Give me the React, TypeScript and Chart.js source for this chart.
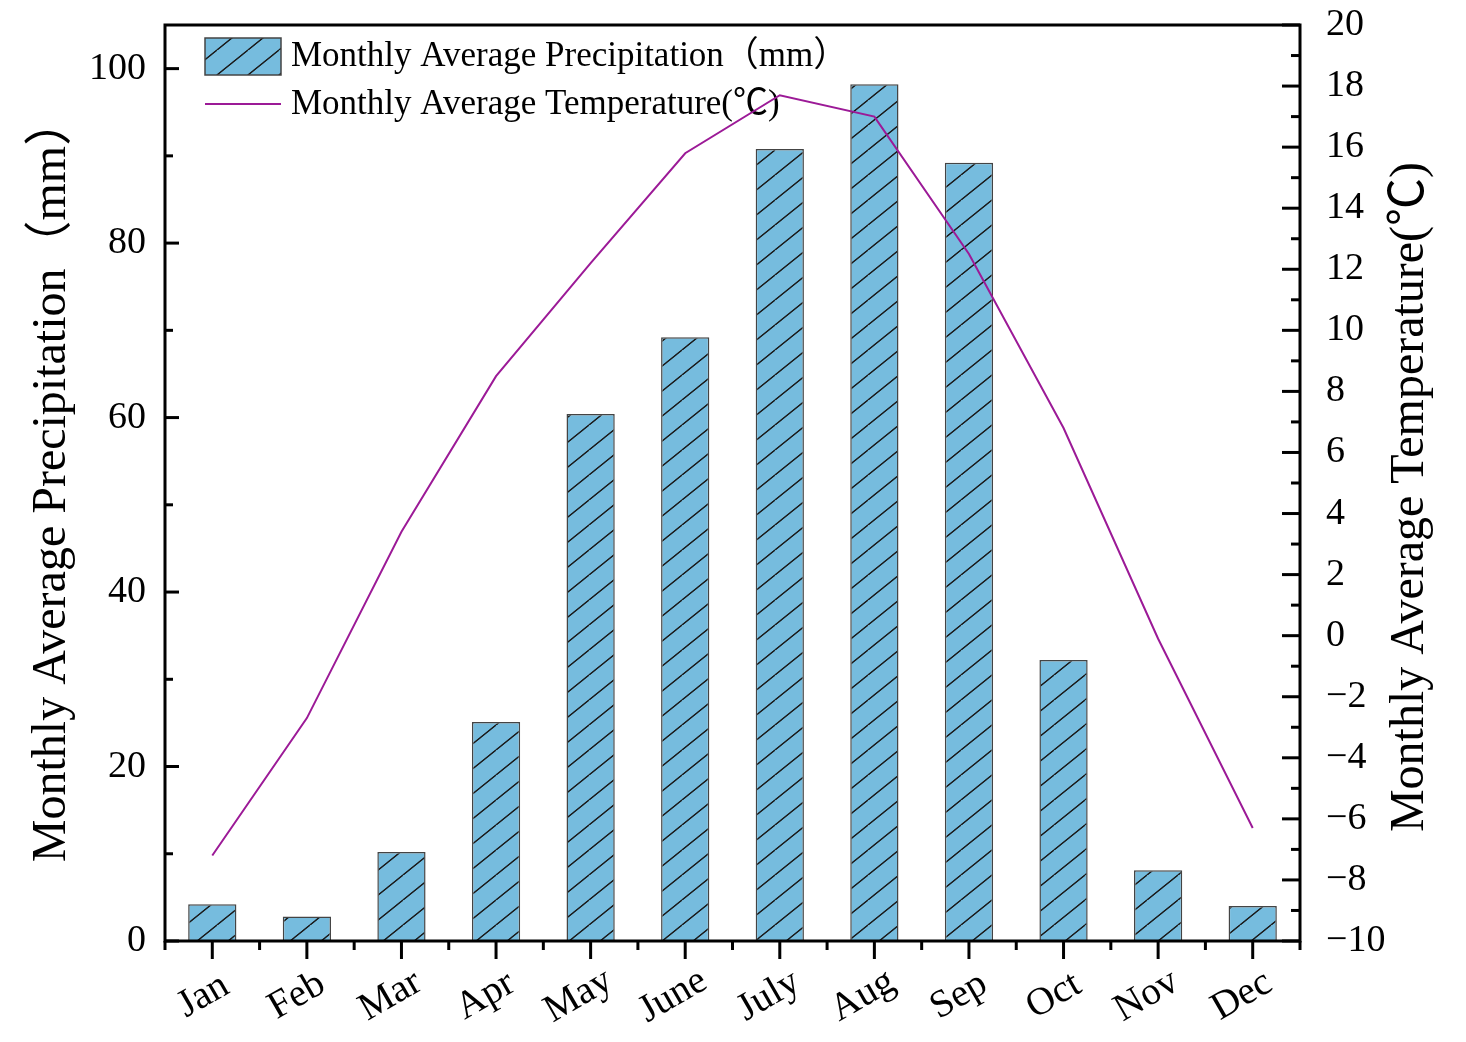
import React, { useEffect, useRef } from 'react';
import { Chart, registerables } from 'chart.js';
Chart.register(...registerables);

const months = ['Jan', 'Feb', 'Mar', 'Apr', 'May', 'June', 'July', 'Aug', 'Sep', 'Oct', 'Nov', 'Dec'];
const precipitation = [4.2, 2.8, 10.2, 25.1, 60.4, 69.2, 90.8, 98.2, 89.2, 32.2, 8.1, 4.0];
const temperature = [-7.2, -2.7, 3.4, 8.5, 12.2, 15.8, 17.7, 17.0, 12.5, 6.8, -0.1, -6.3];
const precipMajor = [0, 20, 40, 60, 80, 100];
const precipMinor = [10, 30, 50, 70, 90];
const tempMajor = [-10, -8, -6, -4, -2, 0, 2, 4, 6, 8, 10, 12, 14, 16, 18, 20];
const tempMinor = [-9, -7, -5, -3, -1, 1, 3, 5, 7, 9, 11, 13, 15, 17, 19];
const precipLabel = 'Monthly Average Precipitation（mm）';
const tempLabel = 'Monthly Average Temperature(℃)';
const legendPrecip = 'Monthly Average Precipitation（mm）';
const legendTemp = 'Monthly Average Temperature(℃)';

const FONT = '"Liberation Serif", "Times New Roman", "Noto Sans CJK SC", serif';
const BAR_FILL = '#76BCDE';
const LINE_COLOR = '#9C1A97';

function makeHatch(): CanvasPattern | string {
  const c = document.createElement('canvas');
  const W = 31, H = 25;
  c.width = W; c.height = H;
  const g = c.getContext('2d');
  if (!g) return BAR_FILL;
  g.fillStyle = BAR_FILL;
  g.fillRect(0, 0, W, H);
  g.strokeStyle = '#1b1b1b';
  g.lineWidth = 1.1;
  const seg = (x0: number, y0: number, x1: number, y1: number) => {
    g.beginPath(); g.moveTo(x0, y0); g.lineTo(x1, y1); g.stroke();
  };
  seg(0, H, W, 0);
  seg(-W, H, 0, 0);
  seg(W, H, 2 * W, 0);
  seg(-W, 2 * H, W, 0);
  seg(0, 2 * H, 2 * W, 0);
  const p = g.createPattern(c, 'repeat');
  return p || BAR_FILL;
}

export default function App() {
  const ref = useRef<HTMLCanvasElement>(null);
  useEffect(() => {
    if (!ref.current) return;
    const hatch = makeHatch();

    const decor = {
      id: 'decor',
      beforeDatasetsDraw(chart: any) {
        const ctx = chart.ctx as CanvasRenderingContext2D;
        ctx.save();
        const bx = 205, by = 38, bw = 76, bh = 37;
        ctx.fillStyle = hatch as any;
        ctx.fillRect(bx, by, bw, bh);
        ctx.strokeStyle = '#444';
        ctx.lineWidth = 1.5;
        ctx.strokeRect(bx, by, bw, bh);
        ctx.strokeStyle = LINE_COLOR;
        ctx.lineWidth = 2;
        ctx.beginPath(); ctx.moveTo(205, 104); ctx.lineTo(281, 104); ctx.stroke();
        ctx.fillStyle = '#000';
        ctx.font = `35px ${FONT}`;
        ctx.textAlign = 'left';
        ctx.textBaseline = 'middle';
        ctx.fillText(legendPrecip, 291, 57);
        ctx.fillText(legendTemp, 291, 105);
        ctx.restore();
      },
      afterDraw(chart: any) {
        const ctx = chart.ctx as CanvasRenderingContext2D;
        const { left, right, top, bottom } = chart.chartArea;
        const x = chart.scales.x, yl = chart.scales.y, yr = chart.scales.y1;
        ctx.save();
        ctx.strokeStyle = '#000';
        ctx.lineWidth = 3;
        ctx.lineCap = 'square';
        ctx.strokeRect(left, top, right - left, bottom - top);
        ctx.lineCap = 'butt';
        const line = (x0: number, y0: number, x1: number, y1: number) => {
          ctx.beginPath(); ctx.moveTo(x0, y0); ctx.lineTo(x1, y1); ctx.stroke();
        };
        precipMajor.forEach(v => { const y = yl.getPixelForValue(v); line(left, y, left + 14, y); });
        precipMinor.forEach(v => { const y = yl.getPixelForValue(v); line(left, y, left + 8, y); });
        tempMajor.forEach(v => { const y = yr.getPixelForValue(v); line(right, y, right - 18, y); });
        tempMinor.forEach(v => { const y = yr.getPixelForValue(v); line(right, y, right - 9, y); });
        const step = x.getPixelForValue(1) - x.getPixelForValue(0);
        months.forEach((m, i) => {
          const px = x.getPixelForValue(i);
          line(px, bottom, px, bottom + 18);
          line(px - step / 2, bottom, px - step / 2, bottom + 9);
        });
        line(right, bottom, right, bottom + 9);
        ctx.fillStyle = '#000';
        ctx.font = `39px ${FONT}`;
        ctx.textAlign = 'center';
        ctx.textBaseline = 'middle';
        months.forEach((m, i) => {
          const px = x.getPixelForValue(i);
          const w = ctx.measureText(m).width;
          ctx.save();
          ctx.translate(px - w * 0.17, 996);
          ctx.rotate(-30 * Math.PI / 180);
          ctx.fillText(m, 0, 0);
          ctx.restore();
        });
        ctx.font = `48px ${FONT}`;
        ctx.save();
        ctx.translate(52, 480);
        ctx.rotate(-Math.PI / 2);
        ctx.fillText(precipLabel, 0, 0);
        ctx.restore();
        ctx.save();
        ctx.translate(1410, 497);
        ctx.rotate(-Math.PI / 2);
        ctx.fillText(tempLabel, 0, 0);
        ctx.restore();
        ctx.restore();
      },
    };

    const noPad = (s: any) => { s.paddingTop = 0; s.paddingBottom = 0; s.paddingLeft = 0; s.paddingRight = 0; };

    const chart = new Chart(ref.current, {
      data: {
        labels: months,
        datasets: [
          {
            type: 'line',
            label: legendTemp,
            data: temperature,
            yAxisID: 'y1',
            borderColor: LINE_COLOR,
            borderWidth: 2,
            pointRadius: 0,
            tension: 0,
            order: 0,
          },
          {
            type: 'bar',
            label: legendPrecip,
            data: precipitation,
            yAxisID: 'y',
            backgroundColor: hatch as any,
            borderColor: '#444',
            borderWidth: 1.5,
            barPercentage: 0.51,
            categoryPercentage: 1,
            order: 1,
          },
        ],
      } as any,
      options: {
        responsive: false,
        animation: false,
        devicePixelRatio: 1,
        layout: { padding: { top: 25, left: 0, right: 0, bottom: 0 } },
        plugins: { legend: { display: false }, tooltip: { enabled: false } },
        scales: {
          x: {
            type: 'category',
            offset: true,
            grid: { display: false, drawTicks: false },
            border: { display: false },
            ticks: { display: false },
            afterFit: (s: any) => { s.height = 101; noPad(s); },
          },
          y: {
            position: 'left',
            min: 0,
            max: 105,
            grid: { display: false, drawTicks: false },
            border: { display: false },
            ticks: {
              stepSize: 20,
              padding: 19,
              color: '#000',
              font: { family: FONT, size: 38 },
            },
            afterBuildTicks: (s: any) => { s.ticks = precipMajor.map(v => ({ value: v })); },
            afterFit: (s: any) => { s.width = 165; noPad(s); },
          },
          y1: {
            position: 'right',
            min: -10,
            max: 20,
            grid: { display: false, drawTicks: false },
            border: { display: false },
            ticks: {
              stepSize: 2,
              padding: 26,
              color: '#000',
              font: { family: FONT, size: 38 },
              callback: (v: any) => String(v).replace('-', '−'),
            },
            afterBuildTicks: (s: any) => { s.ticks = tempMajor.map(v => ({ value: v })); },
            afterFit: (s: any) => { s.width = 166; noPad(s); },
          },
        },
      } as any,
      plugins: [decor],
    });
    return () => chart.destroy();
  }, []);
  return (
    <div style={{ position: 'absolute', left: 0, top: 0, width: 1466, height: 1042, background: '#fff' }}>
      <canvas ref={ref} width={1466} height={1042} style={{ display: 'block' }} />
    </div>
  );
}
